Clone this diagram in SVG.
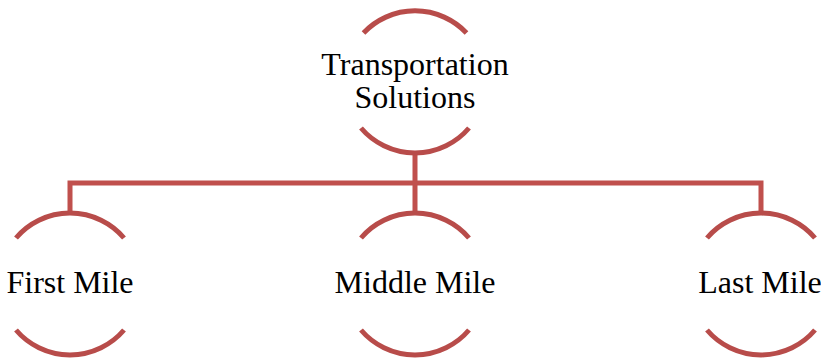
<svg xmlns="http://www.w3.org/2000/svg" width="821" height="360" viewBox="0 0 821 360">
<style>
.arc{fill:none;stroke:#B84C4A;stroke-width:5}
.conn{fill:none;stroke:#C0504D;stroke-width:5}
.lbl{font-family:"Liberation Serif","Times New Roman",serif;font-size:32px;fill:#000;text-anchor:middle}
</style>
<rect width="821" height="360" fill="#fff"/>
<g id="connectors">
<path class="conn" d="M415,153 V212 M70,212 V183 H761 V212"/>
</g>
<g id="node-top">
<path class="arc" d="M363.5,33 A71,71 0 0 1 466.5,33"/>
<path class="arc" d="M361,128 A71,71 0 0 0 469,128"/>
<text class="lbl" x="415" y="75">Transportation</text>
<text class="lbl" x="415" y="108">Solutions</text>
</g>
<g id="node-first">
<path class="arc" d="M16,238 A71,71 0 0 1 124,238"/>
<path class="arc" d="M16,330 A71,71 0 0 0 124,330"/>
<text class="lbl" x="70" y="293">First Mile</text>
</g>
<g id="node-middle">
<path class="arc" d="M361,238 A71,71 0 0 1 469,238"/>
<path class="arc" d="M361,330 A71,71 0 0 0 469,330"/>
<text class="lbl" x="415" y="293">Middle Mile</text>
</g>
<g id="node-last">
<path class="arc" d="M707,238 A71,71 0 0 1 815,238"/>
<path class="arc" d="M707,330 A71,71 0 0 0 815,330"/>
<text class="lbl" x="760" y="293">Last Mile</text>
</g>
</svg>
